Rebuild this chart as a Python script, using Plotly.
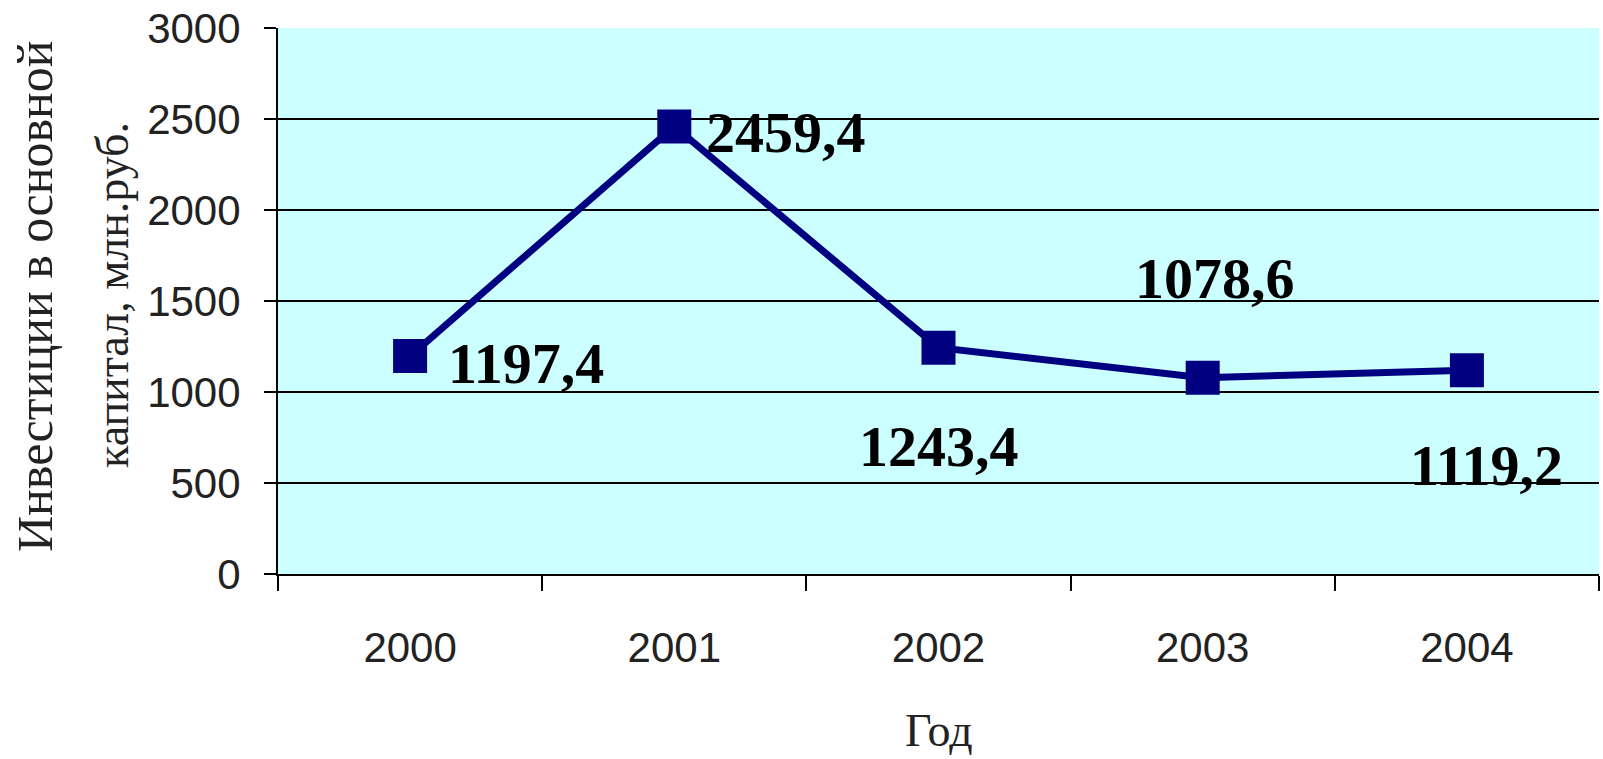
import plotly.graph_objects as go

years = ["2000", "2001", "2002", "2003", "2004"]
investments = [1197.4, 2459.4, 1243.4, 1078.6, 1119.2]
y_ticks = [0, 500, 1000, 1500, 2000, 2500, 3000]
y_title_lines = ["Инвестиции в основной", "капитал, млн.руб."]
x_title = "Год"

# label placement (pixel offsets from each point): (xanchor, xshift, yshift)
label_offsets = [("left", 36, -7), ("left", 30, -6), ("center", 0, -99),
                 ("center", 12, 99), ("center", 20, -95)]

navy = "#000080"
fig = go.Figure()
fig.add_trace(go.Scatter(
    x=years, y=investments, mode="lines+markers",
    line=dict(color=navy, width=7),
    marker=dict(symbol="square", size=34, color=navy),
    showlegend=False, hoverinfo="skip", cliponaxis=False))

for i, (v, (anc, xs, ys)) in enumerate(zip(investments, label_offsets)):
    fig.add_annotation(x=i, y=v, xref="x", yref="y", showarrow=False,
                       text=f"<b>{v:.1f}</b>".replace(".", ","),
                       xanchor=anc, yanchor="middle", xshift=xs, yshift=ys,
                       font=dict(family="Liberation Serif", size=58, color="black"))

# y-axis title as two rotated lines
for line, xs, ys, fs in zip(y_title_lines, [-243, -166], [5, 6], [50, 46]):
    fig.add_annotation(x=0, y=0.5, xref="paper", yref="paper", showarrow=False,
                       text=line, textangle=-90, xanchor="center", yanchor="middle",
                       xshift=xs, yshift=ys,
                       font=dict(family="Liberation Serif", size=fs, color="#222"))

fig.add_annotation(x=0.5, y=0, xref="paper", yref="paper", showarrow=False,
                   text=x_title, xanchor="center", yanchor="bottom", yshift=-184,
                   font=dict(family="Liberation Serif", size=46, color="#222"))

fig.update_layout(
    width=1603, height=759,
    margin=dict(l=278, r=4, t=28, b=185, autoexpand=False),
    paper_bgcolor="white", plot_bgcolor="#CCFFFF",
    xaxis=dict(type="category", tickson="boundaries", ticks="outside", ticklen=15,
               tickwidth=2, tickcolor="black", showline=True, linecolor="black",
               linewidth=2, showgrid=False, automargin=False,
               tickfont=dict(family="Liberation Sans", size=42, color="#222"),
               ticklabelstandoff=36, range=[-0.5, 4.5]),
    yaxis=dict(range=[0, 3000], tickvals=y_ticks, ticks="outside", ticklen=12,
               tickwidth=2, tickcolor="black", showline=True, linecolor="black",
               linewidth=2, showgrid=True, gridcolor="black", gridwidth=2,
               zeroline=False, automargin=False,
               tickfont=dict(family="Liberation Sans", size=42, color="#222"),
               ticklabelstandoff=15),
)

fig.write_html("out.html", config={"displayModeBar": False},
               post_script="document.body.style.margin='0px';")
